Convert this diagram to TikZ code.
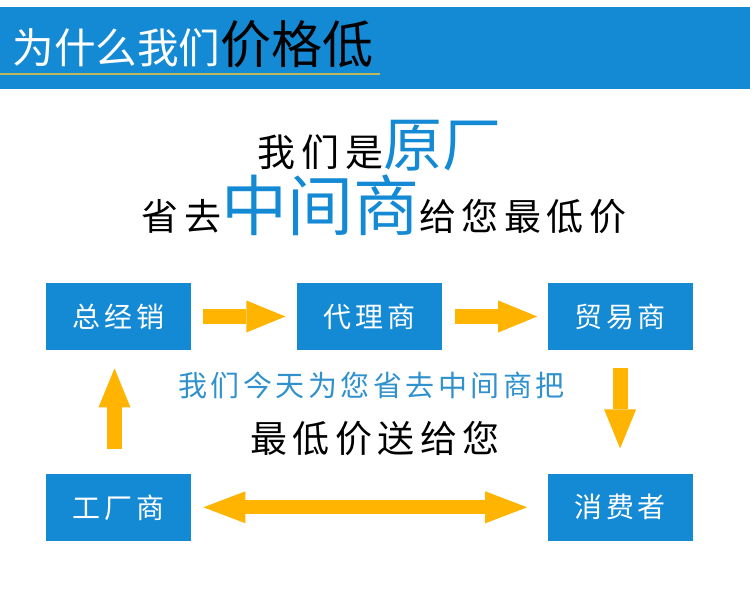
\documentclass[tikz,border=0pt]{standalone}
\usepackage{fontspec}
\setmainfont{Noto Sans CJK SC}
\newfontfamily\cjkancho[LetterSpace=15]{Noto Sans CJK SC}
\newfontfamily\cjkcaja[LetterSpace=14]{Noto Sans CJK SC}
\newfontfamily\cjkmedio[LetterSpace=12]{Noto Sans CJK SC}
\definecolor{azulcaja}{RGB}{20,137,212}
\definecolor{azultexto}{RGB}{48,145,205}
\definecolor{amarillo}{RGB}{254,180,0}
\definecolor{oliva}{RGB}{190,183,95}
\usetikzlibrary{arrows.meta,positioning}

\begin{document}
\begin{tikzpicture}[
  x=0.5pt, y=-0.5pt,
  caja/.style={
    rectangle, fill=azulcaja, text=white,
    minimum width=72.5pt, minimum height=33.5pt,
    inner sep=0pt,
    font=\cjkcaja\fontsize{14}{14}\selectfont},
  flecha/.style={
    draw=amarillo, line width=7.5pt,
    -{Triangle[length=19.5pt, width=16pt, line width=0pt]}},
  dobleflecha/.style={
    draw=amarillo, line width=7pt,
    {Triangle[length=21pt, width=16pt, line width=0pt]}-{Triangle[length=21pt, width=16pt, line width=0pt]}},
  texto/.style={inner sep=0pt}
]
  \useasboundingbox (0,0) rectangle (750,600);

  %% ── Cabecera ──────────────────────────────────────────────
  \fill[azulcaja] (0,7) rectangle (750,89);
  \node[texto, anchor=base west](titulo) at (12,63)
    {{\color{white}\fontsize{20.8}{20.8}\selectfont 为什么我们}%
     {\color{black}\fontsize{25.5}{25.5}\selectfont 价格低}};
  \draw[oliva, line width=1.3pt] (0,74) -- (380,74);

  %% ── Lema ──────────────────────────────────────────────────
  \node[texto](lema1) at (379.5,145.5)
    {\cjkancho\fontsize{19}{19}\selectfont 我们是%
     {\normalfont\color{azulcaja}\fontsize{29.5}{29.5}\selectfont 原厂}};
  \node[texto](lema2) at (384,205)
    {\cjkancho\fontsize{18.5}{18.5}\selectfont 省去%
     {\normalfont\color{azulcaja}\fontsize{33}{33}\selectfont 中间商}给您最低价};

  %% ── Cajas ─────────────────────────────────────────────────
  \node[caja](zjx) at (118.5,316.5) {总经销};
  \node[caja, right=52.5pt of zjx](dls) {代理商};
  \node[caja, right=52.5pt of dls](mys) {贸易商};
  \node[caja, below=61.5pt of zjx](gcs) {工厂商};
  \node[caja, below=61.5pt of mys](xfz) {消费者};

  %% ── Texto central ─────────────────────────────────────────
  \node[texto](frase1) at (371.5,385)
    {\color{azultexto}\cjkmedio\fontsize{14.5}{14.5}\selectfont 我们今天为您省去中间商把};
  \node[texto](frase2) at (375,438.5)
    {\cjkancho\fontsize{18.5}{18.5}\selectfont 最低价送给您};

  %% ── Flechas ───────────────────────────────────────────────
  \draw[flecha, shorten <=6pt, shorten >=5.5pt] (zjx.east) -- (dls.west);
  \draw[flecha, shorten <=6.5pt, shorten >=5pt] (dls.east) -- (mys.west);
  \draw[flecha, shorten <=9pt, shorten >=12.5pt] (mys.south) -- (xfz.north);
  \draw[flecha, shorten <=12pt, shorten >=9pt]
    ([xshift=-2pt]gcs.north) -- ([xshift=-2pt]zjx.south);
  \draw[dobleflecha, shorten <=6pt, shorten >=10pt] (gcs.east) -- (xfz.west);

\end{tikzpicture}
\end{document}
